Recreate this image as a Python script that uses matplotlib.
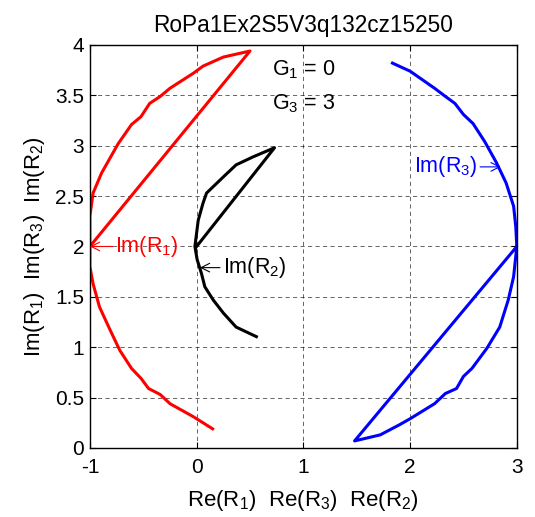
import matplotlib
matplotlib.use("Agg")
import matplotlib.pyplot as plt

plt.rcParams['font.family'] = ['Liberation Sans', 'DejaVu Sans']
plt.rcParams['mathtext.fontset'] = 'custom'
plt.rcParams['mathtext.rm'] = 'Liberation Sans'
plt.rcParams['mathtext.it'] = 'Liberation Sans'

title = "RoPa1Ex2S5V3q132cz15250"

red_x = [0.15, -0.03, -0.25, -0.34, -0.45, -0.52, -0.61, -0.72, -0.81, -0.91, -0.97, -1.0, -1.0,
         -1.0, -0.97, -0.89, -0.735, -0.61, -0.52, -0.44, -0.34, -0.25, -0.03, 0.06, 0.25, 0.50, -1.0]
red_y = [0.19, 0.31, 0.44, 0.53, 0.59, 0.69, 0.79, 0.97, 1.17, 1.40, 1.63, 1.80, 2.0,
         2.30, 2.53, 2.73, 3.02, 3.21, 3.29, 3.42, 3.49, 3.57, 3.72, 3.79, 3.88, 3.94, 2.0]

black_x = [0.56, 0.37, 0.25, 0.155, 0.077, 0.046, 0.005, -0.016, 0.015, 0.06, 0.093, 0.25, 0.37, 0.53, 0.73, 0.0]
black_y = [1.105, 1.20, 1.34, 1.47, 1.60, 1.73, 1.87, 2.0, 2.26, 2.43, 2.53, 2.69, 2.81, 2.89, 2.98, 2.0]

blue_x = [1.835, 2.0, 2.23, 2.33, 2.42, 2.50, 2.59, 2.70, 2.81, 2.90, 2.97, 2.99, 3.0,
          2.97, 2.92, 2.84, 2.72, 2.58, 2.50, 2.435, 2.33, 2.23, 2.0, 1.90, 1.72, 1.48, 3.0]
blue_y = [3.82, 3.74, 3.57, 3.49, 3.42, 3.31, 3.22, 3.04, 2.83, 2.63, 2.40, 2.20, 2.0,
          1.70, 1.47, 1.20, 0.99, 0.79, 0.71, 0.59, 0.54, 0.44, 0.29, 0.23, 0.13, 0.07, 2.0]

x_ticks = [-1, 0, 1, 2, 3]
y_ticks = [0, 0.5, 1, 1.5, 2, 2.5, 3, 3.5, 4]
y_ticklabels = ['0', '0.5', '1', '1.5', '2', '2.5', '3', '3.5', '4']

fig = plt.figure(figsize=(5.35, 5.17), dpi=100)
ax = fig.add_axes([0.168, 0.1335, 0.798, 0.7795])

ax.plot(red_x, red_y, color='#ff0000', lw=2.2)
ax.plot(black_x, black_y, color='black', lw=2.2)
ax.plot(blue_x, blue_y, color='#0000ff', lw=2.2)

ax.set_xlim(-1, 3)
ax.set_ylim(0, 4)
ax.set_xticks(x_ticks)
ax.set_xticklabels([str(t) for t in x_ticks])
ax.set_yticks(y_ticks)
ax.set_yticklabels(y_ticklabels)
ax.tick_params(direction='in', top=True, right=True, labelsize=15, length=4)
ax.tick_params(axis='x', pad=7)
ax.tick_params(axis='y', pad=4)
ax.grid(True, color='black', linestyle=(0, (5, 4)), lw=0.6, alpha=0.7)
for s in ax.spines.values():
    s.set_linewidth(1.0)

ax.set_title(title, fontsize=16.3, pad=9.5)
ax.set_xlabel('Re(R$_1$)  Re(R$_3$)  Re(R$_2$)', fontsize=16, labelpad=8)
ax.set_ylabel('Im(R$_1$)  Im(R$_3$)  Im(R$_2$)', fontsize=16, labelpad=6)

ap = dict(arrowstyle='->', lw=0.8, shrinkA=0, shrinkB=0)
ax.annotate('Im(R$_1$)', xy=(-1.0, 2.0), xytext=(-0.76, 2.0), color='#ff0000', fontsize=15.5,
            va='center', ha='left', arrowprops=dict(color='#ff0000', **ap))
ax.annotate('Im(R$_2$)', xy=(0.03, 1.79), xytext=(0.245, 1.79), color='black', fontsize=15.5,
            va='center', ha='left', arrowprops=dict(color='black', **ap))
ax.annotate('Im(R$_3$)', xy=(2.85, 2.79), xytext=(2.63, 2.79), color='#0000ff', fontsize=15.5,
            va='center', ha='right', arrowprops=dict(color='#0000ff', **ap))

ax.text(0.705, 3.75, 'G$_1$ = 0', fontsize=15.5, va='center', ha='left')
ax.text(0.705, 3.42, 'G$_3$ = 3', fontsize=15.5, va='center', ha='left')

fig.savefig('out.png', dpi=100)
